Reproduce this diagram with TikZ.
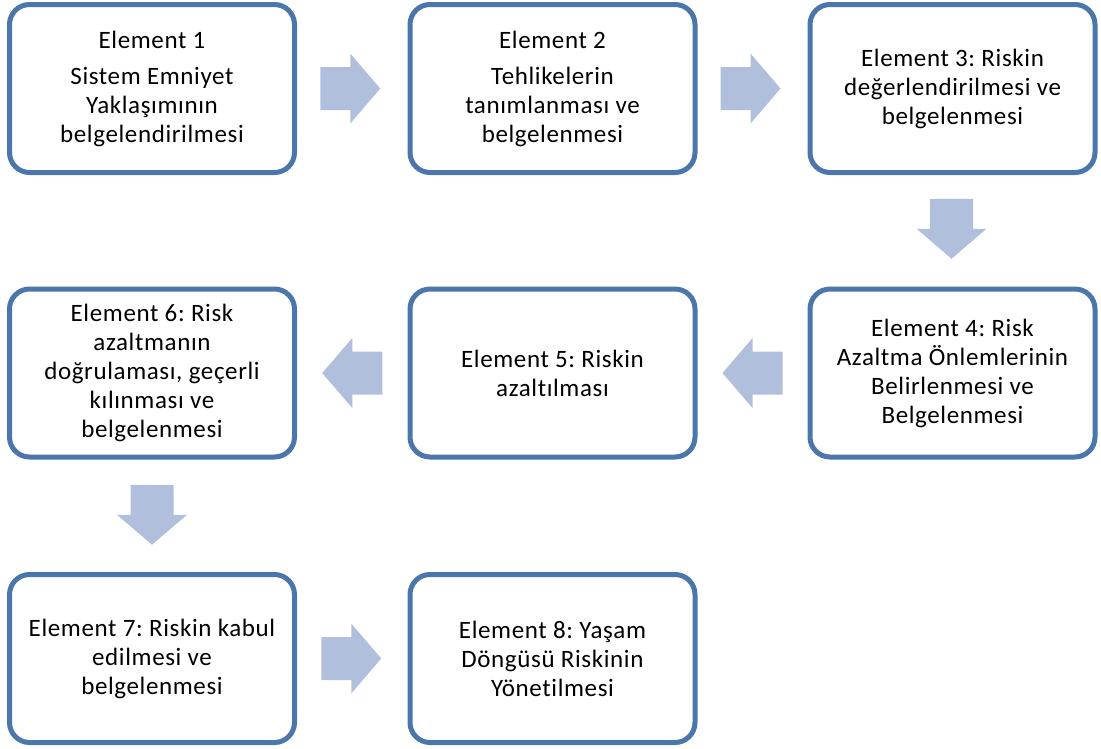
\documentclass[tikz,border=0pt]{standalone}
\usepackage{fontspec}
\setmainfont{Carlito}[Ligatures=NoCommon, LetterSpace=2.5]
\usetikzlibrary{calc}
\definecolor{boxline}{RGB}{74,118,172}
\definecolor{arrfill}{RGB}{176,192,220}
\tikzset{
  stepbox/.style={draw=boxline, line width=5pt, rounded corners=20pt, fill=white,
    minimum width=285pt, minimum height=168pt, inner sep=0pt,
    align=center,
    font=\fontsize{25pt}{29pt}\selectfont\frenchspacing},
  blockarr/.pic={\fill[arrfill] (-30,-21.5) -- (0,-21.5) -- (0,-35) -- (30,0) -- (0,35) -- (0,21.5) -- (-30,21.5) -- cycle;}
}
\begin{document}
\begin{tikzpicture}[x=1pt,y=-1pt]
\path[use as bounding box] (0,0) rectangle (1101,748);
% boxes
\node[stepbox] (b1) at (152,88.5) {Element 1\\[7pt]Sistem Emniyet\\Yaklaşımının\\belgelendirilmesi};
\node[stepbox] (b2) at (552.5,88.5) {Element 2\\[7pt]Tehlikelerin\\tanımlanması ve\\belgelenmesi};
\node[stepbox] (b3) at (952.5,88.5) {Element 3: Riskin\\değerlendirilmesi ve\\belgelenmesi};
\node[stepbox] (b4) at (952.5,373) {Element 4: Risk\\Azaltma Önlemlerinin\\Belirlenmesi ve\\Belgelenmesi};
\node[stepbox] (b5) at (552.5,373) {Element 5: Riskin\\azaltılması};
\node[stepbox] (b6) at (152,373) {Element 6: Risk\\azaltmanın\\doğrulaması, geçerli\\kılınması ve\\belgelenmesi};
\node[stepbox] (b7) at (152,658.5) {Element 7: Riskin kabul\\edilmesi ve\\belgelenmesi};
\node[stepbox] (b8) at (552.5,658.5) {Element 8: Yaşam\\Döngüsü Riskinin\\Yönetilmesi};
% arrows
\coordinate (m12) at ($(b1.east)!0.5!(b2.west)+(-2,0)$);
\coordinate (m23) at ($(b2.east)!0.5!(b3.west)+(-2,0)$);
\coordinate (m34) at ($(b3.south)!0.5!(b4.north)+(-1,-2)$);
\coordinate (m45) at ($(b4.west)!0.5!(b5.east)+(0,0)$);
\coordinate (m56) at ($(b5.west)!0.5!(b6.east)+(0,0)$);
\coordinate (m67) at ($(b6.south)!0.5!(b7.north)+(0,-1)$);
\coordinate (m78) at ($(b7.east)!0.5!(b8.west)+(-1,0)$);
\pic at (m12) {blockarr};
\pic at (m23) {blockarr};
\pic[rotate=-90] at (m34) {blockarr};
\pic[rotate=180] at (m45) {blockarr};
\pic[rotate=180] at (m56) {blockarr};
\pic[rotate=-90] at (m67) {blockarr};
\pic at (m78) {blockarr};
\end{tikzpicture}
\end{document}
